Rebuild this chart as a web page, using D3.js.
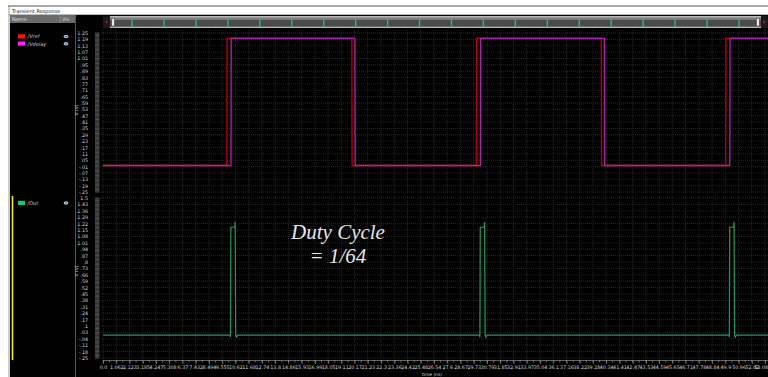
<!DOCTYPE html>
<html>
<head>
<meta charset="utf-8">
<script src="https://cdn.jsdelivr.net/npm/d3@7/dist/d3.min.js"></script>
<style>
  html, body { margin: 0; padding: 0; background: #fff; }
  svg { display: block; }
  text { font-family: "DejaVu Sans", "Liberation Sans", sans-serif; }
  text.note { font-family: "Liberation Serif", "DejaVu Serif", serif; font-style: italic; }
</style>
</head>
<body>
<svg id="chart" width="768" height="377"></svg>
<script>
// ---- data -------------------------------------------------------------
const timeTickLabels = ["0.0","1.062","2.123","3.185","4.247","5.308","6.37","7.432","8.494","9.555",
  "10.62","11.68","12.74","13.8","14.86","15.93","16.99","18.05","19.11","20.17","21.23","22.3",
  "23.36","24.42","25.48","26.54","27.6","28.67","29.73","30.79","31.85","32.91","33.97","35.04",
  "36.1","37.16","38.22","39.28","40.34","41.41","42.47","43.53","44.59","45.65","46.71","47.78",
  "48.84","49.9","50.96","52.02","53.08"];
const topTickLabels = ["1.25","1.19","1.13","1.07","1.01",".95",".89",".83",".77",".71",".65",".59",
  ".53",".47",".41",".35",".29",".23",".17",".11",".05","-.01","-.07","-.13","-.19","-.25"];
const bottomTickLabels = ["1.5","1.43","1.36","1.29","1.22","1.15","1.08","1.01",".94",".87",".8",
  ".73",".66",".59",".52",".45",".38",".31",".24",".17",".1",".03","-.04","-.11","-.18","-.25"];

// waveforms: time (ns) / voltage (V)
const vrefTime  = [0, 9.93, 9.95, 19.95, 19.97, 29.93, 29.95, 39.95, 39.97, 49.93, 49.95, 53.32];
const vrefVolt  = [0, 0,    1.2,  1.2,   0,     0,     1.2,   1.2,   0,     0,     1.2,   1.2];
const vdelTime  = [0, 10.26, 10.28, 20.2, 20.22, 30.26, 30.28, 40.2, 40.22, 50.26, 50.28, 53.32];
const vdelVolt  = [0, 0,     1.2,   1.2,  0,     0,     1.2,   1.2,  0,     0,     1.2,   1.2];
const outTime = [0, 10.18, 10.22, 10.25, 10.56, 10.6, 10.64, 10.7, 10.8,
                 30.18, 30.22, 30.25, 30.56, 30.6, 30.64, 30.7, 30.8,
                 50.18, 50.22, 50.25, 50.56, 50.6, 50.64, 50.7, 50.8, 53.32];
const outVolt = [0, 0, -0.02, 1.18, 1.18, 1.24, 0, -0.02, 0,
                 0, -0.02, 1.18, 1.18, 1.24, 0, -0.02, 0,
                 0, -0.02, 1.18, 1.18, 1.24, 0, -0.02, 0, 0];

const legendTop = [{name: "/Vref", color: "#ff1010"}, {name: "/Vdelay", color: "#ff20ff"}];
const legendBottom = [{name: "/Out", color: "#10cc70"}];

// ---- layout -----------------------------------------------------------
const svg = d3.select("#chart");
const W = 768, H = 377;
const plotX0 = 76, gridX0 = 101;

const x = d3.scaleLinear().domain([0, 53.32]).range([103, 768]);
const yTop = d3.scaleLinear().domain([-0.25, 1.25]).range([192, 33]);
const yBot = d3.scaleLinear().domain([-0.25, 1.5]).range([358, 198]);

// window frame
svg.append("rect").attr("x", 0).attr("y", 0).attr("width", W).attr("height", H).attr("fill", "#fff");
svg.append("line").attr("x1", 8).attr("x2", W).attr("y1", 6).attr("y2", 6)
  .attr("stroke", "#555").attr("stroke-width", 1.2);
svg.append("text").attr("x", 12).attr("y", 12.5).attr("font-size", 5).attr("fill", "#222")
  .text("Transient Response");
svg.append("line").attr("x1", 8).attr("x2", W).attr("y1", 14.5).attr("y2", 14.5)
  .attr("stroke", "#aaa").attr("stroke-width", 0.8);
svg.append("line").attr("x1", 9).attr("x2", 9).attr("y1", 6).attr("y2", H)
  .attr("stroke", "#999").attr("stroke-width", 1);

// name list panel
svg.append("rect").attr("x", 10).attr("y", 15).attr("width", 65).attr("height", H - 15).attr("fill", "#000");
svg.append("rect").attr("x", 10).attr("y", 15).attr("width", 65).attr("height", 8).attr("fill", "#6b6b6b");
svg.append("line").attr("x1", 60).attr("x2", 60).attr("y1", 15).attr("y2", 23).attr("stroke", "#999").attr("stroke-width", 0.6);
svg.append("text").attr("x", 12).attr("y", 21).attr("font-size", 5).attr("fill", "#ddd").text("Name");
svg.append("text").attr("x", 62).attr("y", 21).attr("font-size", 5).attr("fill", "#ddd").text("Vis");
svg.append("line").attr("x1", 75.5).attr("x2", 75.5).attr("y1", 15).attr("y2", H).attr("stroke", "#555").attr("stroke-width", 1);

function legendRows(items, y0) {
  const g = svg.append("g");
  items.forEach((d, i) => {
    const y = y0 + i * 7.2;
    g.append("rect").attr("x", 18).attr("y", y - 2.2).attr("width", 7).attr("height", 4.2).attr("fill", d.color);
    g.append("text").attr("x", 27.5).attr("y", y + 1.8).attr("font-size", 5).attr("font-style", "italic")
      .attr("fill", "#ccc").text(d.name);
    g.append("ellipse").attr("cx", 66).attr("cy", y).attr("rx", 2.4).attr("ry", 1.7).attr("fill", "#a9c4dc");
    g.append("circle").attr("cx", 66).attr("cy", y).attr("r", 0.8).attr("fill", "#35506b");
  });
}
legendRows(legendTop, 36.5);
legendRows(legendBottom, 203);
svg.append("line").attr("x1", 12.5).attr("x2", 12.5).attr("y1", 196).attr("y2", 360)
  .attr("stroke", "#ffee00").attr("stroke-width", 1.6);

// plot background
svg.append("rect").attr("x", plotX0).attr("y", 15).attr("width", W - plotX0).attr("height", H - 15).attr("fill", "#000");

// ---- panels ---------------------------------------------------------
const timeTicks = timeTickLabels.map(Number);

function panel(y, labels, top, bottom, labelY) {
  const g = svg.append("g");
  const vals = labels.map(s => +s.replace(/^(-?)\./, "$10."));
  // grid
  g.selectAll("line.vg").data(timeTicks).join("line")
    .attr("x1", d => x(d)).attr("x2", d => x(d)).attr("y1", top).attr("y2", bottom)
    .attr("stroke", "#363636").attr("stroke-width", 0.7).attr("stroke-dasharray", "1,1");
  g.selectAll("line.hg").data(vals).join("line")
    .attr("x1", gridX0).attr("x2", W).attr("y1", d => y(d)).attr("y2", d => y(d))
    .attr("stroke", "#363636").attr("stroke-width", 0.7).attr("stroke-dasharray", "1,1");
  // y axis with ruler style minor ticks
  const step = Math.abs(vals[0] - vals[1]);
  const minor = d3.range(0, 126).map(i => vals[vals.length - 1] + i * step / 5);
  g.selectAll("line.mt").data(minor).join("line")
    .attr("x1", 95).attr("x2", 99.5).attr("y1", d => y(d)).attr("y2", d => y(d))
    .attr("stroke", "#8a8a8a").attr("stroke-width", 0.6);
  const ax = d3.axisLeft(y).tickValues(vals).tickFormat((d, i) => labels[i]).tickSize(0).tickPadding(0);
  const axg = g.append("g").attr("transform", "translate(88,0)").call(ax);
  axg.select(".domain").remove();
  axg.selectAll("text").attr("font-size", 4.8).attr("fill", "#d8d8d8")
    .style("font-family", "DejaVu Sans, sans-serif");
  g.append("text").attr("transform", `translate(78,${labelY}) rotate(-90)`)
    .attr("text-anchor", "middle").attr("font-size", 4.4).attr("fill", "#d0d0d0").text("V (V)");
  return g;
}
panel(yTop, topTickLabels, 30, 194, 110);
panel(yBot, bottomTickLabels, 196, 360, 271);

// x axis
const xa = svg.append("g").attr("transform", "translate(0,360.5)");
const xMinor = d3.range(0, 101).map(i => i * 1.0617 / 2);
xa.selectAll("line.xm").data(xMinor).join("line")
  .attr("x1", d => x(d)).attr("x2", d => x(d)).attr("y1", 0).attr("y2", 2)
  .attr("stroke", "#aaa").attr("stroke-width", 0.6);
const xAxis = d3.axisBottom(x).tickValues(timeTicks).tickFormat((d, i) => timeTickLabels[i])
  .tickSize(3.5).tickPadding(1.5);
const xg = xa.append("g").call(xAxis);
xg.select(".domain").attr("stroke", "#aaa").attr("stroke-width", 0.6).attr("d", `M${x(0)},0H768`);
xg.selectAll(".tick line").attr("stroke", "#aaa").attr("stroke-width", 0.6);
xg.selectAll("text").attr("font-size", 4.8).attr("fill", "#d8d8d8")
  .style("font-family", "DejaVu Sans, sans-serif");
// keep the last label inside the window edge
xg.selectAll(".tick text").filter((d, i) => i === timeTicks.length - 1)
  .attr("text-anchor", "end").attr("dx", 767.5 - x(timeTicks[timeTicks.length - 1]));
svg.append("text").attr("x", 432).attr("y", 375.5).attr("text-anchor", "middle")
  .attr("font-size", 4.4).attr("fill", "#d0d0d0").text("time (ns)");

// ---- traces ---------------------------------------------------------
function trace(times, volts, y, color, width) {
  const pts = times.map((t, i) => [t, volts[i]]);
  svg.append("path").datum(pts)
    .attr("d", d3.line().x(d => x(d[0])).y(d => y(d[1])))
    .attr("fill", "none").attr("stroke", color).attr("stroke-width", width)
    .attr("stroke-linejoin", "miter");
}
trace(vrefTime, vrefVolt, yTop, "#b00000", 1.4);
trace(vdelTime, vdelVolt, yTop, "#b020b0", 1.3);
trace(outTime, outVolt, yBot, "#1e9a5c", 1.2);

// time-range scrollbar (drawn last, above everything)
const sb = svg.append("g");
sb.append("rect").attr("x", 103).attr("y", 16).attr("width", 7).attr("height", 12).attr("fill", "#1a1a1a");
sb.append("circle").attr("cx", 106.5).attr("cy", 22).attr("r", 0.9).attr("fill", "#e02020");
sb.append("rect").attr("x", 761).attr("y", 16).attr("width", 7).attr("height", 12).attr("fill", "#1a1a1a");
sb.append("path").attr("d", "M763.5,20.5 L766,22 L763.5,23.5 Z").attr("fill", "#e02020");
sb.append("rect").attr("x", 110).attr("y", 16).attr("width", 651).attr("height", 12).attr("fill", "#b8b8b8");
sb.append("rect").attr("x", 110).attr("y", 17.5).attr("width", 651).attr("height", 2.5).attr("fill", "#7c7c7c");
sb.append("rect").attr("x", 110).attr("y", 20).attr("width", 651).attr("height", 6).attr("fill", "#4a4a4a");
sb.append("rect").attr("x", 110).attr("y", 26).attr("width", 651).attr("height", 1).attr("fill", "#6a6a6a");
sb.append("rect").attr("x", 111.8).attr("y", 18.5).attr("width", 2.6).attr("height", 7.5).attr("fill", "#eee").attr("stroke", "#444").attr("stroke-width", 0.5);
sb.append("rect").attr("x", 756.6).attr("y", 18.5).attr("width", 2.6).attr("height", 7.5).attr("fill", "#eee").attr("stroke", "#444").attr("stroke-width", 0.5);
const sbScale = d3.scaleLinear().domain([0, 19]).range([132, 739]);
for (let i = 0; i < 20; i++) {
  sb.append("rect").attr("x", sbScale(i) - 0.7).attr("y", 18.5).attr("width", 1.4).attr("height", 8)
    .attr("fill", "#1fc06a");
}

// annotation
const note = svg.append("g").attr("text-anchor", "middle");
note.append("text").attr("class", "note").attr("x", 338).attr("y", 238.5)
  .attr("font-size", 21).attr("fill", "#e6e6e6").text("Duty Cycle");
note.append("text").attr("class", "note").attr("x", 338).attr("y", 263)
  .attr("font-size", 21).attr("fill", "#e6e6e6").text("= 1/64");
</script>
</body>
</html>
